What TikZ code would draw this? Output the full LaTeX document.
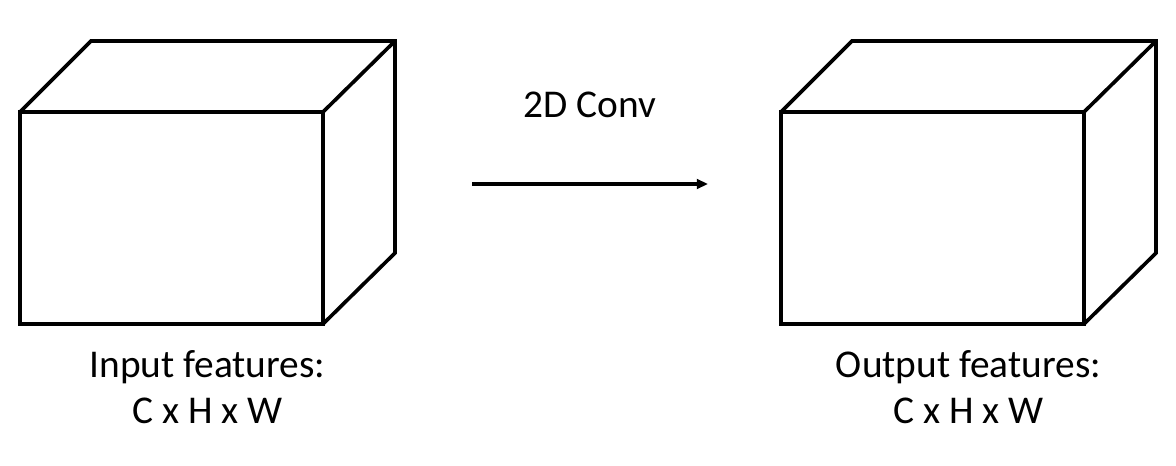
\documentclass[tikz,border=0pt]{standalone}
\usepackage{fontspec}
\setmainfont{Carlito}
\usepackage{tikz}
\usetikzlibrary{arrows.meta}
\tikzset{
  edge/.style={line width=2.6pt, line join=miter},
  flow/.style={-{Triangle[length=2.8mm,width=2.4mm]}, line width=2.4pt},
  lbl/.style={font=\fontsize{28}{32.7}\selectfont, align=center, inner sep=0pt},
}

\begin{document}
\begin{tikzpicture}[x=0.025cm,y=-0.025cm]
  \useasboundingbox (0,0) rectangle (1176,466);
  % --- the two feature blocks ---
  \foreach \bx in {0,761}{
    \draw[edge] (20+\bx,112) rectangle (323+\bx,324);
    \draw[edge] (20+\bx,112) -- (91+\bx,41) -- (395+\bx,41) -- (395+\bx,253) -- (323+\bx,324);
    \draw[edge] (323+\bx,112) -- (395+\bx,41);
  }
  % --- labels ---
  \node[lbl,anchor=base] (inlbl) at (207.5,423) {Input features:\\C x H x W};
  \node[lbl,anchor=base] (outlbl) at (968.5,423) {Output features:\\C x H x W};
  % --- convolution ---
  \coordinate (src) at (472,184);
  \coordinate (dst) at (708,184);
  \node[lbl,anchor=base] (conv) at (590,117) {2D Conv};
  \draw[flow] (src) -- (dst);
\end{tikzpicture}
\end{document}
